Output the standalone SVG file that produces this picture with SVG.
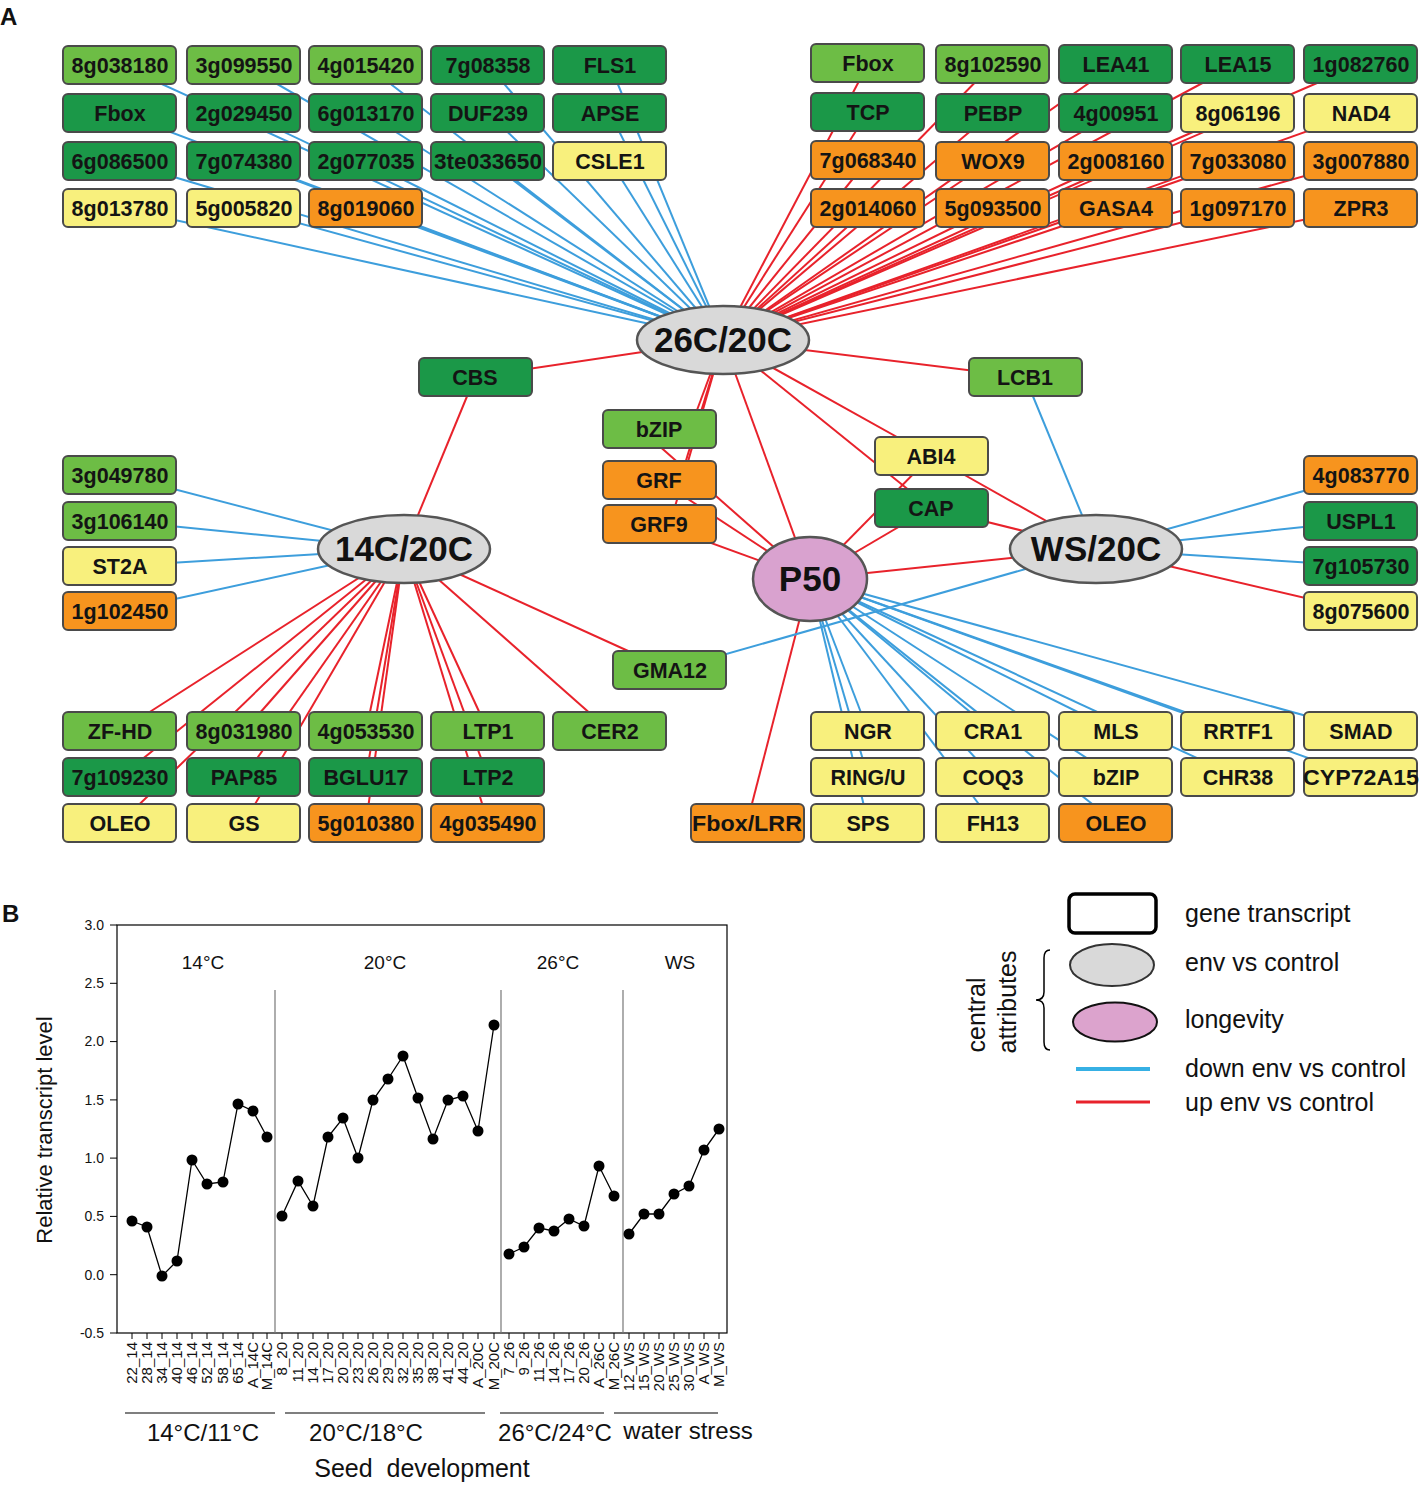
<svg xmlns="http://www.w3.org/2000/svg" width="1428" height="1489" viewBox="0 0 1428 1489">
<style>
.n rect{stroke:#4a4a4a;stroke-width:2}
.dg{fill:#1b9848}.lg{fill:#6dbd45}.y{fill:#f8f07d}.o{fill:#f7941e}
.n text{font-family:"Liberation Sans",Arial,sans-serif;font-weight:bold;font-size:21.5px;fill:#141414;text-anchor:middle}
.hub{fill:#d9d9d9;stroke:#555;stroke-width:2.5}
.p50{fill:#d9a2cf;stroke:#555;stroke-width:2.5}
.ht{font-family:"Liberation Sans",Arial,sans-serif;font-weight:bold;font-size:35px;fill:#111;text-anchor:middle}
.b{stroke:#3d9edc;stroke-width:2;fill:none}
.r{stroke:#e8222b;stroke-width:2;fill:none}
.t{font-family:"Liberation Sans",Arial,sans-serif;fill:#111}
.tick{stroke:#000;stroke-width:1}
.dl{fill:none;stroke:#000;stroke-width:1.3}
.dot{fill:#000}
</style>

<text x="0" y="25" class="t" font-size="24" font-weight="bold">A</text>
<text x="2" y="922" class="t" font-size="24" font-weight="bold">B</text>

<!-- connectors -->
<g id="connectors">
<g class="b">
<line x1="120" y1="65" x2="723" y2="340"/><line x1="244" y1="65" x2="723" y2="340"/><line x1="366" y1="65" x2="723" y2="340"/><line x1="488" y1="65" x2="723" y2="340"/><line x1="610" y1="65" x2="723" y2="340"/>
<line x1="120" y1="113" x2="723" y2="340"/><line x1="244" y1="113" x2="723" y2="340"/><line x1="366" y1="113" x2="723" y2="340"/><line x1="488" y1="113" x2="723" y2="340"/><line x1="610" y1="113" x2="723" y2="340"/>
<line x1="120" y1="161" x2="723" y2="340"/><line x1="244" y1="161" x2="723" y2="340"/><line x1="366" y1="161" x2="723" y2="340"/><line x1="488" y1="161" x2="723" y2="340"/><line x1="610" y1="161" x2="723" y2="340"/>
<line x1="120" y1="208" x2="723" y2="340"/><line x1="244" y1="208" x2="723" y2="340"/><line x1="366" y1="208" x2="723" y2="340"/>
</g>
<g class="r">
<line x1="868" y1="64" x2="723" y2="340"/><line x1="993" y1="64" x2="723" y2="340"/><line x1="1116" y1="64" x2="723" y2="340"/><line x1="1238" y1="64" x2="723" y2="340"/><line x1="1361" y1="64" x2="723" y2="340"/>
<line x1="868" y1="112" x2="723" y2="340"/><line x1="993" y1="112" x2="723" y2="340"/><line x1="1116" y1="112" x2="723" y2="340"/><line x1="1238" y1="112" x2="723" y2="340"/><line x1="1361" y1="112" x2="723" y2="340"/>
<line x1="868" y1="160" x2="723" y2="340"/><line x1="993" y1="160" x2="723" y2="340"/><line x1="1116" y1="160" x2="723" y2="340"/><line x1="1238" y1="160" x2="723" y2="340"/><line x1="1361" y1="160" x2="723" y2="340"/>
<line x1="868" y1="208" x2="723" y2="340"/><line x1="993" y1="208" x2="723" y2="340"/><line x1="1116" y1="208" x2="723" y2="340"/><line x1="1238" y1="208" x2="723" y2="340"/><line x1="1361" y1="208" x2="723" y2="340"/>
<line x1="475" y1="377" x2="723" y2="340"/><line x1="1025" y1="377" x2="723" y2="340"/>
<line x1="690" y1="429" x2="723" y2="340"/><line x1="680" y1="480" x2="723" y2="340"/><line x1="670" y1="524" x2="723" y2="340"/>
<line x1="810" y1="579" x2="723" y2="340"/><line x1="931" y1="456" x2="723" y2="340"/><line x1="931" y1="508" x2="723" y2="340"/>
<line x1="475" y1="377" x2="404" y2="549"/>
<line x1="640" y1="429" x2="810" y2="579"/><line x1="659" y1="480" x2="810" y2="579"/><line x1="659" y1="524" x2="810" y2="579"/>
<line x1="931" y1="456" x2="810" y2="579"/><line x1="931" y1="508" x2="810" y2="579"/>
<line x1="931" y1="456" x2="1096" y2="549"/><line x1="931" y1="508" x2="1096" y2="549"/>
<line x1="810" y1="579" x2="1096" y2="549"/>
<line x1="670" y1="670" x2="404" y2="549"/>
<line x1="1361" y1="611" x2="1096" y2="549"/>
<line x1="747" y1="823" x2="810" y2="579"/>
<line x1="120" y1="731" x2="404" y2="549"/><line x1="244" y1="731" x2="404" y2="549"/><line x1="366" y1="731" x2="404" y2="549"/><line x1="488" y1="731" x2="404" y2="549"/><line x1="610" y1="731" x2="404" y2="549"/>
<line x1="120" y1="777" x2="404" y2="549"/><line x1="244" y1="777" x2="404" y2="549"/><line x1="366" y1="777" x2="404" y2="549"/><line x1="488" y1="777" x2="404" y2="549"/>
<line x1="120" y1="823" x2="404" y2="549"/><line x1="244" y1="823" x2="404" y2="549"/><line x1="366" y1="823" x2="404" y2="549"/><line x1="488" y1="823" x2="404" y2="549"/>
</g>
<g class="b">
<line x1="1025" y1="377" x2="1096" y2="549"/>
<line x1="670" y1="670" x2="1096" y2="549"/>
<line x1="120" y1="475" x2="404" y2="549"/><line x1="120" y1="521" x2="404" y2="549"/><line x1="120" y1="566" x2="404" y2="549"/><line x1="120" y1="611" x2="404" y2="549"/>
<line x1="1361" y1="475" x2="1096" y2="549"/><line x1="1361" y1="521" x2="1096" y2="549"/><line x1="1361" y1="566" x2="1096" y2="549"/>
<line x1="868" y1="731" x2="810" y2="579"/><line x1="993" y1="731" x2="810" y2="579"/><line x1="1116" y1="731" x2="810" y2="579"/><line x1="1238" y1="731" x2="810" y2="579"/><line x1="1361" y1="731" x2="810" y2="579"/>
<line x1="868" y1="777" x2="810" y2="579"/><line x1="993" y1="777" x2="810" y2="579"/><line x1="1116" y1="777" x2="810" y2="579"/><line x1="1238" y1="777" x2="810" y2="579"/><line x1="1361" y1="777" x2="810" y2="579"/>
<line x1="868" y1="823" x2="810" y2="579"/><line x1="993" y1="823" x2="810" y2="579"/><line x1="1116" y1="823" x2="810" y2="579"/>
</g>
</g>

<!-- top-left nodes -->
<g id="n-8g038180" class="n"><rect class="lg" x="63" y="46" width="113" height="38" rx="5"/><text x="120" y="73">8g038180</text></g>
<g id="n-3g099550" class="n"><rect class="lg" x="187" y="46" width="113" height="38" rx="5"/><text x="244" y="73">3g099550</text></g>
<g id="n-4g015420" class="n"><rect class="lg" x="309" y="46" width="113" height="38" rx="5"/><text x="366" y="73">4g015420</text></g>
<g id="n-7g08358" class="n"><rect class="dg" x="431" y="46" width="113" height="38" rx="5"/><text x="488" y="73">7g08358</text></g>
<g id="n-FLS1" class="n"><rect class="dg" x="553" y="46" width="113" height="38" rx="5"/><text x="610" y="73">FLS1</text></g>
<g id="n-Fbox-a" class="n"><rect class="dg" x="63" y="94" width="113" height="38" rx="5"/><text x="120" y="121">Fbox</text></g>
<g id="n-2g029450" class="n"><rect class="dg" x="187" y="94" width="113" height="38" rx="5"/><text x="244" y="121">2g029450</text></g>
<g id="n-6g013170" class="n"><rect class="dg" x="309" y="94" width="113" height="38" rx="5"/><text x="366" y="121">6g013170</text></g>
<g id="n-DUF239" class="n"><rect class="dg" x="431" y="94" width="113" height="38" rx="5"/><text x="488" y="121">DUF239</text></g>
<g id="n-APSE" class="n"><rect class="dg" x="553" y="94" width="113" height="38" rx="5"/><text x="610" y="121">APSE</text></g>
<g id="n-6g086500" class="n"><rect class="dg" x="63" y="142" width="113" height="38" rx="5"/><text x="120" y="169">6g086500</text></g>
<g id="n-7g074380" class="n"><rect class="dg" x="187" y="142" width="113" height="38" rx="5"/><text x="244" y="169">7g074380</text></g>
<g id="n-2g077035" class="n"><rect class="dg" x="309" y="142" width="113" height="38" rx="5"/><text x="366" y="169">2g077035</text></g>
<g id="n-3te033650" class="n"><rect class="dg" x="431" y="142" width="113" height="38" rx="5"/><text x="488" y="169" textLength="108" lengthAdjust="spacingAndGlyphs">3te033650</text></g>
<g id="n-CSLE1" class="n"><rect class="y" x="553" y="142" width="113" height="38" rx="5"/><text x="610" y="169">CSLE1</text></g>
<g id="n-8g013780" class="n"><rect class="y" x="63" y="189" width="113" height="38" rx="5"/><text x="120" y="216">8g013780</text></g>
<g id="n-5g005820" class="n"><rect class="y" x="187" y="189" width="113" height="38" rx="5"/><text x="244" y="216">5g005820</text></g>
<g id="n-8g019060" class="n"><rect class="o" x="309" y="189" width="113" height="38" rx="5"/><text x="366" y="216">8g019060</text></g>

<!-- top-right nodes -->
<g id="n-Fbox-b" class="n"><rect class="lg" x="811" y="44" width="113" height="38" rx="5"/><text x="868" y="71">Fbox</text></g>
<g id="n-8g102590" class="n"><rect class="lg" x="936" y="45" width="113" height="38" rx="5"/><text x="993" y="72">8g102590</text></g>
<g id="n-LEA41" class="n"><rect class="dg" x="1059" y="45" width="113" height="38" rx="5"/><text x="1116" y="72">LEA41</text></g>
<g id="n-LEA15" class="n"><rect class="dg" x="1181" y="45" width="113" height="38" rx="5"/><text x="1238" y="72">LEA15</text></g>
<g id="n-1g082760" class="n"><rect class="dg" x="1304" y="45" width="113" height="38" rx="5"/><text x="1361" y="72">1g082760</text></g>
<g id="n-TCP" class="n"><rect class="dg" x="811" y="93" width="113" height="38" rx="5"/><text x="868" y="120">TCP</text></g>
<g id="n-PEBP" class="n"><rect class="dg" x="936" y="94" width="113" height="38" rx="5"/><text x="993" y="121">PEBP</text></g>
<g id="n-4g00951" class="n"><rect class="dg" x="1059" y="94" width="113" height="38" rx="5"/><text x="1116" y="121">4g00951</text></g>
<g id="n-8g06196" class="n"><rect class="y" x="1181" y="94" width="113" height="38" rx="5"/><text x="1238" y="121">8g06196</text></g>
<g id="n-NAD4" class="n"><rect class="y" x="1304" y="94" width="113" height="38" rx="5"/><text x="1361" y="121">NAD4</text></g>
<g id="n-7g068340" class="n"><rect class="o" x="811" y="141" width="113" height="38" rx="5"/><text x="868" y="168">7g068340</text></g>
<g id="n-WOX9" class="n"><rect class="o" x="936" y="142" width="113" height="38" rx="5"/><text x="993" y="169">WOX9</text></g>
<g id="n-2g008160" class="n"><rect class="o" x="1059" y="142" width="113" height="38" rx="5"/><text x="1116" y="169">2g008160</text></g>
<g id="n-7g033080" class="n"><rect class="o" x="1181" y="142" width="113" height="38" rx="5"/><text x="1238" y="169">7g033080</text></g>
<g id="n-3g007880" class="n"><rect class="o" x="1304" y="142" width="113" height="38" rx="5"/><text x="1361" y="169">3g007880</text></g>
<g id="n-2g014060" class="n"><rect class="o" x="811" y="189" width="113" height="38" rx="5"/><text x="868" y="216">2g014060</text></g>
<g id="n-5g093500" class="n"><rect class="o" x="936" y="189" width="113" height="38" rx="5"/><text x="993" y="216">5g093500</text></g>
<g id="n-GASA4" class="n"><rect class="o" x="1059" y="189" width="113" height="38" rx="5"/><text x="1116" y="216">GASA4</text></g>
<g id="n-1g097170" class="n"><rect class="o" x="1181" y="189" width="113" height="38" rx="5"/><text x="1238" y="216">1g097170</text></g>
<g id="n-ZPR3" class="n"><rect class="o" x="1304" y="189" width="113" height="38" rx="5"/><text x="1361" y="216">ZPR3</text></g>

<!-- middle nodes -->
<g id="n-CBS" class="n"><rect class="dg" x="419" y="358" width="113" height="38" rx="5"/><text x="475" y="385">CBS</text></g>
<g id="n-LCB1" class="n"><rect class="lg" x="969" y="358" width="113" height="38" rx="5"/><text x="1025" y="385">LCB1</text></g>
<g id="n-bZIP-a" class="n"><rect class="lg" x="603" y="410" width="113" height="38" rx="5"/><text x="659" y="437">bZIP</text></g>
<g id="n-GRF" class="n"><rect class="o" x="603" y="461" width="113" height="38" rx="5"/><text x="659" y="488">GRF</text></g>
<g id="n-GRF9" class="n"><rect class="o" x="603" y="505" width="113" height="38" rx="5"/><text x="659" y="532">GRF9</text></g>
<g id="n-ABI4" class="n"><rect class="y" x="875" y="437" width="113" height="38" rx="5"/><text x="931" y="464">ABI4</text></g>
<g id="n-CAP" class="n"><rect class="dg" x="875" y="489" width="113" height="38" rx="5"/><text x="931" y="516">CAP</text></g>
<g id="n-GMA12" class="n"><rect class="lg" x="613" y="651" width="113" height="38" rx="5"/><text x="670" y="678">GMA12</text></g>

<!-- left / right nodes -->
<g id="n-3g049780" class="n"><rect class="lg" x="63" y="456" width="113" height="38" rx="5"/><text x="120" y="483">3g049780</text></g>
<g id="n-3g106140" class="n"><rect class="lg" x="63" y="502" width="113" height="38" rx="5"/><text x="120" y="529">3g106140</text></g>
<g id="n-ST2A" class="n"><rect class="y" x="63" y="547" width="113" height="38" rx="5"/><text x="120" y="574">ST2A</text></g>
<g id="n-1g102450" class="n"><rect class="o" x="63" y="592" width="113" height="38" rx="5"/><text x="120" y="619">1g102450</text></g>
<g id="n-4g083770" class="n"><rect class="o" x="1304" y="456" width="113" height="38" rx="5"/><text x="1361" y="483">4g083770</text></g>
<g id="n-USPL1" class="n"><rect class="dg" x="1304" y="502" width="113" height="38" rx="5"/><text x="1361" y="529">USPL1</text></g>
<g id="n-7g105730" class="n"><rect class="dg" x="1304" y="547" width="113" height="38" rx="5"/><text x="1361" y="574">7g105730</text></g>
<g id="n-8g075600" class="n"><rect class="y" x="1304" y="592" width="113" height="38" rx="5"/><text x="1361" y="619">8g075600</text></g>

<!-- bottom-left nodes -->
<g id="n-ZF-HD" class="n"><rect class="lg" x="63" y="712" width="113" height="38" rx="5"/><text x="120" y="739">ZF-HD</text></g>
<g id="n-8g031980" class="n"><rect class="lg" x="187" y="712" width="113" height="38" rx="5"/><text x="244" y="739">8g031980</text></g>
<g id="n-4g053530" class="n"><rect class="lg" x="309" y="712" width="113" height="38" rx="5"/><text x="366" y="739">4g053530</text></g>
<g id="n-LTP1" class="n"><rect class="lg" x="431" y="712" width="113" height="38" rx="5"/><text x="488" y="739">LTP1</text></g>
<g id="n-CER2" class="n"><rect class="lg" x="553" y="712" width="113" height="38" rx="5"/><text x="610" y="739">CER2</text></g>
<g id="n-7g109230" class="n"><rect class="dg" x="63" y="758" width="113" height="38" rx="5"/><text x="120" y="785">7g109230</text></g>
<g id="n-PAP85" class="n"><rect class="dg" x="187" y="758" width="113" height="38" rx="5"/><text x="244" y="785">PAP85</text></g>
<g id="n-BGLU17" class="n"><rect class="dg" x="309" y="758" width="113" height="38" rx="5"/><text x="366" y="785">BGLU17</text></g>
<g id="n-LTP2" class="n"><rect class="dg" x="431" y="758" width="113" height="38" rx="5"/><text x="488" y="785">LTP2</text></g>
<g id="n-OLEO-a" class="n"><rect class="y" x="63" y="804" width="113" height="38" rx="5"/><text x="120" y="831">OLEO</text></g>
<g id="n-GS" class="n"><rect class="y" x="187" y="804" width="113" height="38" rx="5"/><text x="244" y="831">GS</text></g>
<g id="n-5g010380" class="n"><rect class="o" x="309" y="804" width="113" height="38" rx="5"/><text x="366" y="831">5g010380</text></g>
<g id="n-4g035490" class="n"><rect class="o" x="431" y="804" width="113" height="38" rx="5"/><text x="488" y="831">4g035490</text></g>

<!-- bottom-right nodes -->
<g id="n-NGR" class="n"><rect class="y" x="811" y="712" width="113" height="38" rx="5"/><text x="868" y="739">NGR</text></g>
<g id="n-CRA1" class="n"><rect class="y" x="936" y="712" width="113" height="38" rx="5"/><text x="993" y="739">CRA1</text></g>
<g id="n-MLS" class="n"><rect class="y" x="1059" y="712" width="113" height="38" rx="5"/><text x="1116" y="739">MLS</text></g>
<g id="n-RRTF1" class="n"><rect class="y" x="1181" y="712" width="113" height="38" rx="5"/><text x="1238" y="739">RRTF1</text></g>
<g id="n-SMAD" class="n"><rect class="y" x="1304" y="712" width="113" height="38" rx="5"/><text x="1361" y="739">SMAD</text></g>
<g id="n-RING-U" class="n"><rect class="y" x="811" y="758" width="113" height="38" rx="5"/><text x="868" y="785">RING/U</text></g>
<g id="n-COQ3" class="n"><rect class="y" x="936" y="758" width="113" height="38" rx="5"/><text x="993" y="785">COQ3</text></g>
<g id="n-bZIP-b" class="n"><rect class="y" x="1059" y="758" width="113" height="38" rx="5"/><text x="1116" y="785">bZIP</text></g>
<g id="n-CHR38" class="n"><rect class="y" x="1181" y="758" width="113" height="38" rx="5"/><text x="1238" y="785">CHR38</text></g>
<g id="n-CYP72A15" class="n"><rect class="y" x="1304" y="758" width="113" height="38" rx="5"/><text x="1361" y="785" textLength="116" lengthAdjust="spacingAndGlyphs">CYP72A15</text></g>
<g id="n-Fbox-LRR" class="n"><rect class="o" x="691" y="804" width="113" height="38" rx="5"/><text x="747" y="831" textLength="110" lengthAdjust="spacingAndGlyphs">Fbox/LRR</text></g>
<g id="n-SPS" class="n"><rect class="y" x="811" y="804" width="113" height="38" rx="5"/><text x="868" y="831">SPS</text></g>
<g id="n-FH13" class="n"><rect class="y" x="936" y="804" width="113" height="38" rx="5"/><text x="993" y="831">FH13</text></g>
<g id="n-OLEO-b" class="n"><rect class="o" x="1059" y="804" width="113" height="38" rx="5"/><text x="1116" y="831">OLEO</text></g>

<!-- hubs -->
<g id="h-26C"><ellipse class="hub" cx="723" cy="340" rx="86" ry="34"/><text class="ht" x="723" y="352">26C/20C</text></g>
<g id="h-14C"><ellipse class="hub" cx="404" cy="549" rx="86" ry="34"/><text class="ht" x="404" y="561">14C/20C</text></g>
<g id="h-WS"><ellipse class="hub" cx="1096" cy="549" rx="86" ry="34"/><text class="ht" x="1096" y="561">WS/20C</text></g>
<g id="h-P50"><ellipse class="p50" cx="810" cy="579" rx="57" ry="42"/><text class="ht" x="810" y="591" font-size="33">P50</text></g>

<!-- chart B -->
<g id="chart">
<rect x="117" y="925" width="610" height="408" fill="none" stroke="#000" stroke-width="1.2"/>
<g stroke="#777" stroke-width="1.2"><line x1="275" y1="990" x2="275" y2="1333"/><line x1="501" y1="990" x2="501" y2="1333"/><line x1="623" y1="990" x2="623" y2="1333"/></g>
<g class="tick">
<line x1="110" y1="925" x2="117" y2="925"/><line x1="110" y1="983.3" x2="117" y2="983.3"/><line x1="110" y1="1041.6" x2="117" y2="1041.6"/><line x1="110" y1="1099.9" x2="117" y2="1099.9"/><line x1="110" y1="1158.1" x2="117" y2="1158.1"/><line x1="110" y1="1216.4" x2="117" y2="1216.4"/><line x1="110" y1="1274.7" x2="117" y2="1274.7"/><line x1="110" y1="1333" x2="117" y2="1333"/>
</g>
<g class="t" font-size="14" text-anchor="end">
<text x="104" y="930">3.0</text><text x="104" y="988">2.5</text><text x="104" y="1046">2.0</text><text x="104" y="1105">1.5</text><text x="104" y="1163">1.0</text><text x="104" y="1221">0.5</text><text x="104" y="1280">0.0</text><text x="104" y="1338">-0.5</text>
</g>
<text class="t" font-size="22" text-anchor="middle" transform="translate(52,1130) rotate(-90)">Relative transcript level</text>
<g class="t" font-size="19" text-anchor="middle">
<text x="203" y="969">14°C</text><text x="385" y="969">20°C</text><text x="558" y="969">26°C</text><text x="680" y="969">WS</text>
</g>
<path class="tick" d="M132,1333v6M147,1333v6M162,1333v6M177,1333v6M192,1333v6M207,1333v6M223,1333v6M238,1333v6M253,1333v6M267,1333v6M282,1333v6M298,1333v6M313,1333v6M328,1333v6M343,1333v6M358,1333v6M373,1333v6M388,1333v6M403,1333v6M418,1333v6M433,1333v6M448,1333v6M463,1333v6M478,1333v6M494,1333v6M509,1333v6M524,1333v6M539,1333v6M554,1333v6M569,1333v6M584,1333v6M599,1333v6M614,1333v6M629,1333v6M644,1333v6M659,1333v6M674,1333v6M689,1333v6M704,1333v6M719,1333v6"/>
<polyline class="dl" points="132,1221 147,1227 162,1276 177,1261 192,1160 207,1184 223,1182 238,1104 253,1111 267,1137"/>
<polyline class="dl" points="282,1216 298,1181 313,1206 328,1137 343,1118 358,1158 373,1100 388,1079 403,1056 418,1098 433,1139 448,1100 463,1096 478,1131 494,1025"/>
<polyline class="dl" points="509,1254 524,1247 539,1228 554,1231 569,1219 584,1226 599,1166 614,1196"/>
<polyline class="dl" points="629,1234 644,1214 659,1214 674,1194 689,1186 704,1150 719,1129"/>
<g class="dot">
<circle cx="132" cy="1221" r="5.5"/><circle cx="147" cy="1227" r="5.5"/><circle cx="162" cy="1276" r="5.5"/><circle cx="177" cy="1261" r="5.5"/><circle cx="192" cy="1160" r="5.5"/><circle cx="207" cy="1184" r="5.5"/><circle cx="223" cy="1182" r="5.5"/><circle cx="238" cy="1104" r="5.5"/><circle cx="253" cy="1111" r="5.5"/><circle cx="267" cy="1137" r="5.5"/>
<circle cx="282" cy="1216" r="5.5"/><circle cx="298" cy="1181" r="5.5"/><circle cx="313" cy="1206" r="5.5"/><circle cx="328" cy="1137" r="5.5"/><circle cx="343" cy="1118" r="5.5"/><circle cx="358" cy="1158" r="5.5"/><circle cx="373" cy="1100" r="5.5"/><circle cx="388" cy="1079" r="5.5"/><circle cx="403" cy="1056" r="5.5"/><circle cx="418" cy="1098" r="5.5"/><circle cx="433" cy="1139" r="5.5"/><circle cx="448" cy="1100" r="5.5"/><circle cx="463" cy="1096" r="5.5"/><circle cx="478" cy="1131" r="5.5"/><circle cx="494" cy="1025" r="5.5"/>
<circle cx="509" cy="1254" r="5.5"/><circle cx="524" cy="1247" r="5.5"/><circle cx="539" cy="1228" r="5.5"/><circle cx="554" cy="1231" r="5.5"/><circle cx="569" cy="1219" r="5.5"/><circle cx="584" cy="1226" r="5.5"/><circle cx="599" cy="1166" r="5.5"/><circle cx="614" cy="1196" r="5.5"/>
<circle cx="629" cy="1234" r="5.5"/><circle cx="644" cy="1214" r="5.5"/><circle cx="659" cy="1214" r="5.5"/><circle cx="674" cy="1194" r="5.5"/><circle cx="689" cy="1186" r="5.5"/><circle cx="704" cy="1150" r="5.5"/><circle cx="719" cy="1129" r="5.5"/>
</g>
<g class="t" font-size="15" text-anchor="end">
<text transform="translate(137,1342) rotate(-90)">22_14</text><text transform="translate(152,1342) rotate(-90)">28_14</text><text transform="translate(167,1342) rotate(-90)">34_14</text><text transform="translate(182,1342) rotate(-90)">40_14</text><text transform="translate(197,1342) rotate(-90)">46_14</text><text transform="translate(212,1342) rotate(-90)">52_14</text><text transform="translate(228,1342) rotate(-90)">58_14</text><text transform="translate(243,1342) rotate(-90)">65_14</text><text transform="translate(258,1342) rotate(-90)">A_14C</text><text transform="translate(272,1342) rotate(-90)">M_14C</text>
<text transform="translate(287,1342) rotate(-90)">8_20</text><text transform="translate(303,1342) rotate(-90)">11_20</text><text transform="translate(318,1342) rotate(-90)">14_20</text><text transform="translate(333,1342) rotate(-90)">17_20</text><text transform="translate(348,1342) rotate(-90)">20_20</text><text transform="translate(363,1342) rotate(-90)">23_20</text><text transform="translate(378,1342) rotate(-90)">26_20</text><text transform="translate(393,1342) rotate(-90)">29_20</text><text transform="translate(408,1342) rotate(-90)">32_20</text><text transform="translate(423,1342) rotate(-90)">35_20</text><text transform="translate(438,1342) rotate(-90)">38_20</text><text transform="translate(453,1342) rotate(-90)">41_20</text><text transform="translate(468,1342) rotate(-90)">44_20</text><text transform="translate(483,1342) rotate(-90)">A_20C</text><text transform="translate(499,1342) rotate(-90)">M_20C</text>
<text transform="translate(514,1342) rotate(-90)">7_26</text><text transform="translate(529,1342) rotate(-90)">9_26</text><text transform="translate(544,1342) rotate(-90)">11_26</text><text transform="translate(559,1342) rotate(-90)">14_26</text><text transform="translate(574,1342) rotate(-90)">17_26</text><text transform="translate(589,1342) rotate(-90)">20_26</text><text transform="translate(604,1342) rotate(-90)">A_26C</text><text transform="translate(619,1342) rotate(-90)">M_26C</text>
<text transform="translate(634,1342) rotate(-90)">12_WS</text><text transform="translate(649,1342) rotate(-90)">15_WS</text><text transform="translate(664,1342) rotate(-90)">20_WS</text><text transform="translate(679,1342) rotate(-90)">25_WS</text><text transform="translate(694,1342) rotate(-90)">30_WS</text><text transform="translate(709,1342) rotate(-90)">A_WS</text><text transform="translate(724,1342) rotate(-90)">M_WS</text>
</g>
<g stroke="#000" stroke-width="1.2"><line x1="125" y1="1413" x2="275" y2="1413"/><line x1="285" y1="1413" x2="485" y2="1413"/><line x1="500" y1="1413" x2="604" y2="1413"/><line x1="614" y1="1413" x2="718" y2="1413"/></g>
<g class="t" font-size="24" text-anchor="middle">
<text x="203" y="1441">14°C/11°C</text><text x="366" y="1441">20°C/18°C</text><text x="555" y="1441">26°C/24°C</text><text x="688" y="1439">water stress</text>
<text x="422" y="1477" font-size="25" xml:space="preserve">Seed  development</text>
</g>
</g>

<!-- legend -->
<g id="legend">
<rect x="1069" y="894" width="87" height="39" rx="6" fill="#fff" stroke="#000" stroke-width="3.5"/>
<ellipse cx="1112" cy="965" rx="42" ry="21" fill="#d9d9d9" stroke="#333" stroke-width="2"/>
<ellipse cx="1115" cy="1022" rx="42" ry="19.5" fill="#dca3cd" stroke="#111" stroke-width="2"/>
<line x1="1076" y1="1069" x2="1150" y2="1069" stroke="#36b0e4" stroke-width="4"/>
<line x1="1076" y1="1102" x2="1150" y2="1102" stroke="#e8222b" stroke-width="3"/>
<path d="M1050,950 Q1044,950 1044,958 L1044,992 Q1044,1000 1036,1000 Q1044,1000 1044,1008 L1044,1042 Q1044,1050 1050,1050" fill="none" stroke="#000" stroke-width="1.5"/>
<g class="t" font-size="25">
<text x="1185" y="922">gene transcript</text>
<text x="1185" y="971">env vs control</text>
<text x="1185" y="1028">longevity</text>
<text x="1185" y="1077">down env vs control</text>
<text x="1185" y="1111">up env vs control</text>
<text transform="translate(985,1015) rotate(-90)" text-anchor="middle">central</text>
<text transform="translate(1016,1002) rotate(-90)" text-anchor="middle">attributes</text>
</g>
</g>
</svg>
